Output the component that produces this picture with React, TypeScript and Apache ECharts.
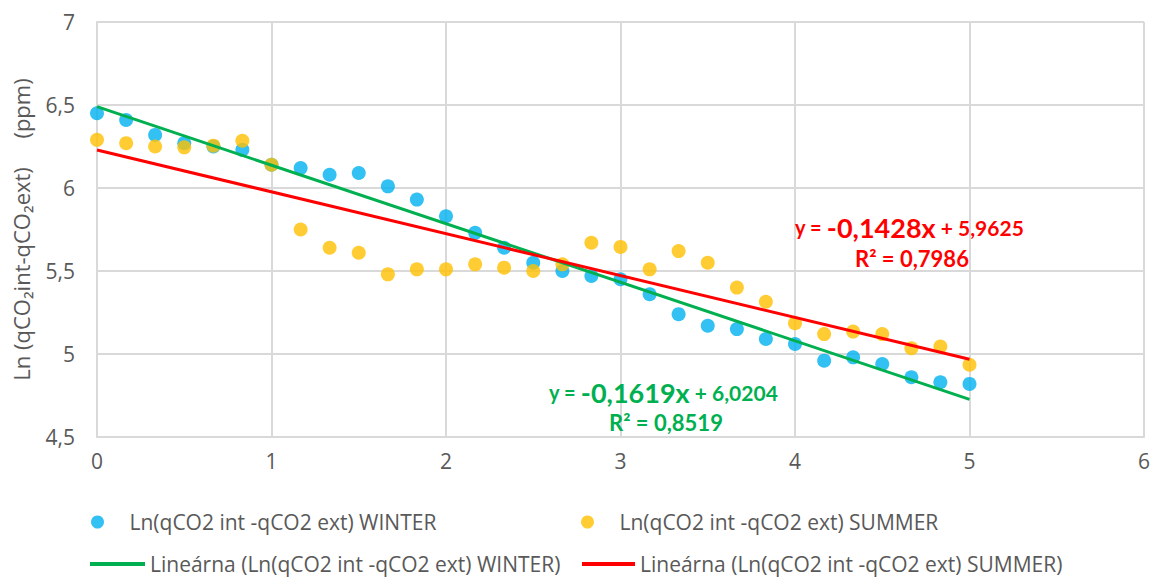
import React, { useEffect, useRef } from "react";
import * as echarts from "echarts";

// Sampling positions on the x axis (step of one sixth)
const xValues = [
  0, 0.167, 0.333, 0.5, 0.667, 0.833, 1, 1.167, 1.333, 1.5, 1.667, 1.833, 2, 2.167, 2.333, 2.5,
  2.667, 2.833, 3, 3.167, 3.333, 3.5, 3.667, 3.833, 4, 4.167, 4.333, 4.5, 4.667, 4.833, 5,
];

const winterValues = [
  6.45, 6.41, 6.32, 6.27, 6.25, 6.23, 6.14, 6.12, 6.08, 6.09, 6.01, 5.93, 5.83, 5.73, 5.64, 5.55,
  5.5, 5.47, 5.45, 5.36, 5.24, 5.17, 5.15, 5.09, 5.06, 4.96, 4.98, 4.94, 4.86, 4.83, 4.82,
];

const summerValues = [
  6.29, 6.27, 6.25, 6.245, 6.255, 6.285, 6.14, 5.75, 5.64, 5.61, 5.48, 5.51, 5.51, 5.54, 5.52, 5.5,
  5.54, 5.67, 5.645, 5.51, 5.62, 5.55, 5.4, 5.315, 5.185, 5.12, 5.135, 5.12, 5.035, 5.045, 4.935,
];

// Linear trend end points [x, y]
const winterTrend = [
  [0, 6.49],
  [5, 4.727],
];
const summerTrend = [
  [0, 6.229],
  [5, 4.968],
];

const xTicks = { min: 0, max: 6, interval: 1 };
const yTicks = { min: 4.5, max: 7, interval: 0.5 };

const seriesNames = {
  winter: "Ln(qCO2 int -qCO2 ext) WINTER",
  summer: "Ln(qCO2 int -qCO2 ext) SUMMER",
  winterTrend: "Lineárna (Ln(qCO2 int -qCO2 ext) WINTER)",
  summerTrend: "Lineárna (Ln(qCO2 int -qCO2 ext) SUMMER)",
};

const yAxisTitle = "Ln (qCO\u2082int-qCO\u2082ext)     (ppm)";

const summerEquation = { y: "y = ", slope: "-0,1428x", icpt: " + 5,9625", r2: "R\u00B2 = 0,7986" };
const winterEquation = { y: "y = ", slope: "-0,1619x", icpt: " + 6,0204", r2: "R\u00B2 = 0,8519" };

const COLORS = {
  winter: "#00B0F0",
  summer: "#FFC000",
  winterTrend: "#00B050",
  summerTrend: "#FF0000",
  grid: "#D9D9D9",
  text: "#595959",
};

const FONT = "Lato, 'Open Sans', sans-serif";
const WIDE_FONT = "'Open Sans', Lato, sans-serif";

const fmt = (v: number) => String(v).replace(".", ",");

export default function App() {
  const ref = useRef<HTMLDivElement>(null);

  useEffect(() => {
    if (!ref.current) return;
    const chart = echarts.init(ref.current, undefined, { renderer: "svg" });

    const legendBase = {
      orient: "horizontal" as const,
      selectedMode: false,
      textStyle: { color: COLORS.text, fontSize: 21, lineHeight: 24, fontFamily: WIDE_FONT },
      padding: 0,
    };

    const eqRich = (color: string) => ({
      s: { fontSize: 20, fontWeight: "bold", fill: color, fontFamily: FONT },
      b: { fontSize: 27, fontWeight: "bold", fill: color, fontFamily: FONT },
      m: { fontSize: 21, fontWeight: "bold", fill: color, fontFamily: FONT },
    });

    const eqText = (eq: typeof summerEquation) => `{s|${eq.y}}{b|${eq.slope}}{m|${eq.icpt}}`;

    const r2Style = (color: string, text: string) => ({
      text,
      fill: color,
      fontSize: 22,
      fontWeight: "bold",
      fontFamily: FONT,
      align: "left",
      verticalAlign: "middle",
    });

    chart.setOption({
      animation: false,
      backgroundColor: "#FFFFFF",
      textStyle: { fontFamily: FONT },
      grid: { left: 97, right: 8, top: 22, bottom: 140, containLabel: false },
      xAxis: {
        type: "value",
        min: xTicks.min,
        max: xTicks.max,
        interval: xTicks.interval,
        axisLine: { show: true, lineStyle: { color: COLORS.grid, width: 2 } },
        axisTick: { show: false },
        splitLine: { show: true, lineStyle: { color: COLORS.grid, width: 2 } },
        axisLabel: { color: COLORS.text, fontSize: 21, margin: 13, fontFamily: WIDE_FONT },
      },
      yAxis: {
        type: "value",
        min: yTicks.min,
        max: yTicks.max,
        interval: yTicks.interval,
        name: yAxisTitle,
        nameLocation: "middle",
        nameRotate: 90,
        nameGap: 65,
        nameTextStyle: { color: COLORS.text, fontSize: 22, fontFamily: WIDE_FONT },
        axisLine: { show: true, lineStyle: { color: COLORS.grid, width: 2 } },
        axisTick: { show: false },
        splitLine: { show: true, lineStyle: { color: COLORS.grid, width: 2 } },
        axisLabel: {
          color: COLORS.text,
          fontSize: 21,
          margin: 22,
          fontFamily: WIDE_FONT,
          formatter: (v: number) => fmt(v),
        },
      },
      legend: [
        {
          ...legendBase,
          left: 91,
          top: 510,
          itemWidth: 54,
          itemHeight: 13,
          data: [{ name: seriesNames.winter, icon: "circle" }],
        },
        {
          ...legendBase,
          left: 581,
          top: 510,
          itemWidth: 54,
          itemHeight: 13,
          data: [{ name: seriesNames.summer, icon: "circle" }],
        },
        {
          ...legendBase,
          left: 90,
          top: 552,
          itemWidth: 55,
          itemHeight: 4,
          data: [{ name: seriesNames.winterTrend, icon: "rect" }],
        },
        {
          ...legendBase,
          left: 582,
          top: 552,
          itemWidth: 53,
          itemHeight: 4,
          data: [{ name: seriesNames.summerTrend, icon: "rect" }],
        },
      ],
      series: [
        {
          name: seriesNames.winter,
          type: "scatter",
          symbol: "circle",
          symbolSize: 14,
          itemStyle: { color: COLORS.winter },
          data: xValues.map((x, i) => [x, winterValues[i]]),
          z: 2,
        },
        {
          name: seriesNames.summer,
          type: "scatter",
          symbol: "circle",
          symbolSize: 14,
          itemStyle: { color: COLORS.summer },
          data: xValues.map((x, i) => [x, summerValues[i]]),
          z: 3,
        },
        {
          name: seriesNames.winterTrend,
          type: "line",
          showSymbol: false,
          symbol: "none",
          lineStyle: { color: COLORS.winterTrend, width: 3 },
          itemStyle: { color: COLORS.winterTrend },
          data: winterTrend,
          z: 4,
        },
        {
          name: seriesNames.summerTrend,
          type: "line",
          showSymbol: false,
          symbol: "none",
          lineStyle: { color: COLORS.summerTrend, width: 3 },
          itemStyle: { color: COLORS.summerTrend },
          data: summerTrend,
          z: 5,
        },
      ],
      graphic: [
        {
          type: "text",
          x: 795,
          y: 227,
          z: 10,
          style: {
            text: eqText(summerEquation),
            rich: eqRich(COLORS.summerTrend),
            align: "left",
            verticalAlign: "middle",
          },
        },
        {
          type: "text",
          x: 855,
          y: 258,
          z: 10,
          style: r2Style(COLORS.summerTrend, summerEquation.r2),
        },
        {
          type: "text",
          x: 549,
          y: 392,
          z: 10,
          style: {
            text: eqText(winterEquation),
            rich: eqRich(COLORS.winterTrend),
            align: "left",
            verticalAlign: "middle",
          },
        },
        {
          type: "text",
          x: 609,
          y: 422,
          z: 10,
          style: r2Style(COLORS.winterTrend, winterEquation.r2),
        },
      ],
    });

    return () => chart.dispose();
  }, []);

  return (
    <div
      ref={ref}
      style={{ position: "absolute", left: 0, top: 0, width: 1153, height: 577 }}
    />
  );
}
